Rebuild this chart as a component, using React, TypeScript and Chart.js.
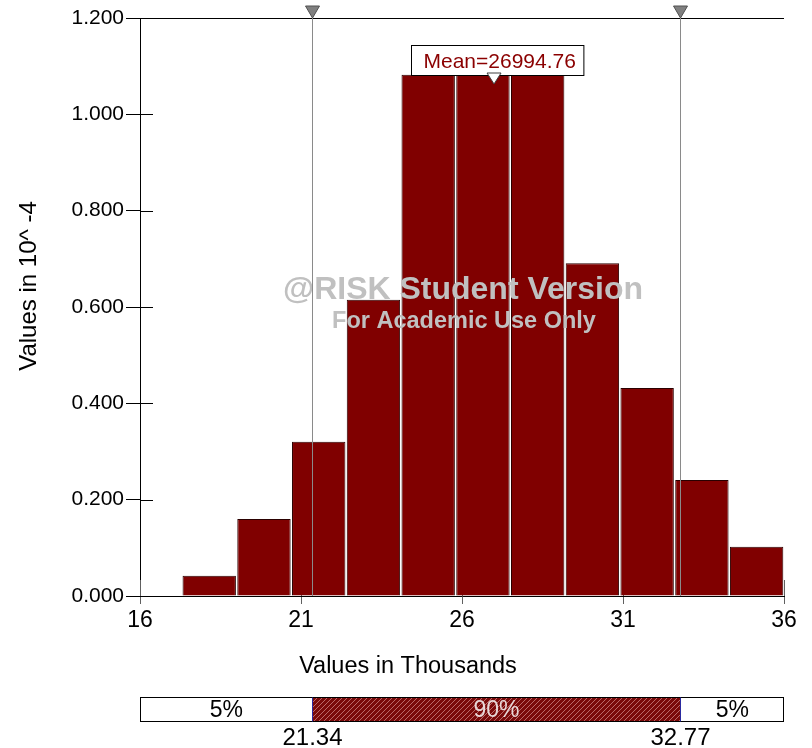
import React, { useEffect, useRef } from "react";
import { Chart, registerables } from "chart.js";

Chart.register(...registerables);

const binCenters = [18.15, 19.85, 21.55, 23.25, 24.95, 26.65, 28.35, 30.05, 31.75, 33.45, 35.15];
const densities = [0.042, 0.160, 0.320, 0.615, 1.082, 1.082, 1.082, 0.691, 0.432, 0.241, 0.102];
const xTicks = [16, 21, 26, 31, 36];
const yTicks = [0, 0.2, 0.4, 0.6, 0.8, 1.0, 1.2];
const leftMarker = 21.34;
const rightMarker = 32.77;
const meanValue = 26.99476;
const meanLabel = "Mean=26994.76";
const leftPct = "5%";
const midPct = "90%";
const rightPct = "5%";
const xTitle = "Values in Thousands";
const yTitle = "Values in 10^ -4";
const watermark1 = "@RISK Student Version";
const watermark2 = "For Academic Use Only";

const FONT = "'Liberation Sans', Arial, sans-serif";

function makeHatch(ctx: CanvasRenderingContext2D) {
  const c = document.createElement("canvas");
  c.width = 5;
  c.height = 5;
  const g = c.getContext("2d")!;
  g.fillStyle = "#7a0a0a";
  g.fillRect(0, 0, 5, 5);
  g.strokeStyle = "rgba(230,170,170,0.75)";
  g.lineWidth = 0.8;
  g.beginPath();
  g.moveTo(0, 5);
  g.lineTo(5, 0);
  g.moveTo(-1, 1);
  g.lineTo(1, -1);
  g.moveTo(4, 6);
  g.lineTo(6, 4);
  g.stroke();
  return ctx.createPattern(c, "repeat")!;
}

const innerTicks = {
  id: "innerTicks",
  beforeDatasetsDraw(chart: any) {
    const { ctx, chartArea, scales } = chart;
    ctx.save();
    ctx.lineWidth = 1;
    ctx.strokeStyle = "#000";
    for (const v of yTicks) {
      const y = Math.round(scales.y.getPixelForValue(v)) + 0.5;
      ctx.beginPath();
      ctx.moveTo(chartArea.left, y);
      ctx.lineTo(chartArea.left + 13, y);
      ctx.stroke();
    }
    ctx.strokeStyle = "#606060";
    for (const v of xTicks) {
      const x = Math.round(scales.x.getPixelForValue(v)) + 0.5;
      ctx.beginPath();
      ctx.moveTo(x, chartArea.bottom);
      ctx.lineTo(x, chartArea.bottom - 16);
      ctx.stroke();
    }
    ctx.restore();
  },
};

const overlay = {
  id: "overlay",
  afterDraw(chart: any) {
    const { ctx, chartArea, scales } = chart;
    const xs = scales.x;
    ctx.save();
    // top border
    ctx.strokeStyle = "#000";
    ctx.lineWidth = 1;
    ctx.beginPath();
    ctx.moveTo(chartArea.left - 4, chartArea.top + 0.5);
    ctx.lineTo(chartArea.right, chartArea.top + 0.5);
    ctx.stroke();

    // watermark
    ctx.fillStyle = "#c0c0c0";
    ctx.textAlign = "center";
    ctx.textBaseline = "middle";
    ctx.font = `bold 32px ${FONT}`;
    ctx.fillText(watermark1, 463, 290);
    ctx.font = `bold 23.5px ${FONT}`;
    ctx.fillText(watermark2, 464, 322);

    // marker lines
    for (const v of [leftMarker, rightMarker]) {
      const x = Math.round(xs.getPixelForValue(v)) + 0.5;
      ctx.strokeStyle = "#8a8a8a";
      ctx.lineWidth = 1;
      ctx.beginPath();
      ctx.moveTo(x, chartArea.top);
      ctx.lineTo(x, chartArea.bottom);
      ctx.stroke();
      ctx.fillStyle = "#808080";
      ctx.strokeStyle = "#505050";
      ctx.beginPath();
      ctx.moveTo(x - 7, 6);
      ctx.lineTo(x + 7, 6);
      ctx.lineTo(x, 18);
      ctx.closePath();
      ctx.fill();
      ctx.stroke();
    }

    // mean label
    const mx = xs.getPixelForValue(meanValue);
    ctx.font = `21px ${FONT}`;
    const tw = ctx.measureText(meanLabel).width;
    const bw = tw + 20;
    const bx = Math.round(mx + 3 - bw / 2) + 0.5;
    ctx.fillStyle = "#fff";
    ctx.fillRect(bx, 45.5, bw, 30);
    ctx.strokeStyle = "#000";
    ctx.strokeRect(bx, 45.5, bw, 30);
    ctx.fillStyle = "#8b0000";
    ctx.textAlign = "center";
    ctx.textBaseline = "middle";
    ctx.fillText(meanLabel, bx + bw / 2 + 2, 62);
    ctx.fillStyle = "#fff";
    ctx.strokeStyle = "#404040";
    ctx.beginPath();
    ctx.moveTo(mx - 7, 73);
    ctx.lineTo(mx + 7, 73);
    ctx.lineTo(mx, 84);
    ctx.closePath();
    ctx.fill();
    ctx.stroke();

    // y title
    ctx.save();
    ctx.translate(29, 286);
    ctx.rotate(-Math.PI / 2);
    ctx.fillStyle = "#000";
    ctx.font = `24px ${FONT}`;
    ctx.fillText(yTitle, 0, 0);
    ctx.restore();

    // x title
    ctx.fillStyle = "#000";
    ctx.font = `23.5px ${FONT}`;
    ctx.fillText(xTitle, 408, 667);

    // bottom strip
    const x0 = chartArea.left;
    const x3 = chartArea.right;
    const x1 = Math.round(xs.getPixelForValue(leftMarker)) + 0.5;
    const x2 = Math.round(xs.getPixelForValue(rightMarker)) + 0.5;
    const top = 697.5;
    const h = 24;
    ctx.fillStyle = "#fff";
    ctx.fillRect(x0, top, x3 - x0, h);
    ctx.fillStyle = makeHatch(ctx);
    ctx.fillRect(x1, top, x2 - x1, h);
    ctx.strokeStyle = "#000";
    ctx.lineWidth = 1;
    ctx.strokeRect(x0 + 0.5, top, x3 - x0 - 1, h);
    ctx.strokeStyle = "#2a2aa0";
    for (const x of [x1, x2]) {
      ctx.beginPath();
      ctx.moveTo(x, top);
      ctx.lineTo(x, top + h);
      ctx.stroke();
    }
    ctx.font = `23px ${FONT}`;
    ctx.fillStyle = "#000";
    ctx.fillText(leftPct, (x0 + x1) / 2, top + h / 2 + 1);
    ctx.fillText(rightPct, (x2 + x3) / 2, top + h / 2 + 1);
    ctx.fillStyle = "#e8d8d8";
    ctx.fillText(midPct, (x1 + x2) / 2, top + h / 2 + 1);
    ctx.fillStyle = "#000";
    ctx.font = `24px ${FONT}`;
    ctx.fillText(leftMarker.toFixed(2), x1, 738);
    ctx.fillText(rightMarker.toFixed(2), x2, 738);
    ctx.restore();
  },
};

export default function App() {
  const ref = useRef<HTMLCanvasElement | null>(null);
  useEffect(() => {
    if (!ref.current) return;
    const chart = new Chart(ref.current, {
      type: "bar",
      data: {
        datasets: [
          {
            data: binCenters.map((x, i) => ({ x, y: densities[i] })),
            backgroundColor: "#800000",
            borderColor: "#2a0000",
            borderWidth: 1,
            barPercentage: 0.975,
            categoryPercentage: 1,
          },
        ],
      },
      options: {
        animation: false,
        responsive: false,
        devicePixelRatio: 1,
        layout: { padding: { left: 0, top: 18, right: 28, bottom: 0 } },
        plugins: { legend: { display: false }, tooltip: { enabled: false }, title: { display: false } },
        scales: {
          x: {
            type: "linear",
            min: 16,
            max: 36,
            offset: false,
            afterBuildTicks: (s: any) => {
              s.ticks = xTicks.map((v) => ({ value: v }));
            },
            afterFit: (s: any) => {
              s.height = 152;
              s.paddingLeft = 0;
              s.paddingRight = 0;
            },
            ticks: {
              color: "#000",
              font: { family: FONT, size: 23 },
              padding: 3,
              maxRotation: 0,
              autoSkip: false,
              callback: (v: any) => String(v),
            },
            grid: { offset: false, drawOnChartArea: false, drawTicks: true, tickLength: 8, tickColor: "#606060", color: "#606060" },
            border: { display: true, color: "#000", width: 1 },
          },
          y: {
            min: 0,
            max: 1.2,
            afterBuildTicks: (s: any) => {
              s.ticks = yTicks.map((v) => ({ value: v }));
            },
            afterFit: (s: any) => {
              s.width = 140;
              s.paddingTop = 0;
              s.paddingBottom = 0;
            },
            ticks: {
              color: "#000",
              font: { family: FONT, size: 21 },
              padding: 2,
              autoSkip: false,
              callback: (v: any) => Number(v).toFixed(3),
            },
            grid: { drawOnChartArea: false, drawTicks: true, tickLength: 14, tickColor: "#000", color: "#000" },
            border: { display: true, color: "#000", width: 1 },
          },
        },
      },
      plugins: [innerTicks, overlay],
    } as any);
    return () => chart.destroy();
  }, []);
  return (
    <div style={{ position: "absolute", left: 0, top: 0, width: 812, height: 748, background: "#fff" }}>
      <canvas ref={ref} width={812} height={748} style={{ display: "block", width: 812, height: 748 }} />
    </div>
  );
}
